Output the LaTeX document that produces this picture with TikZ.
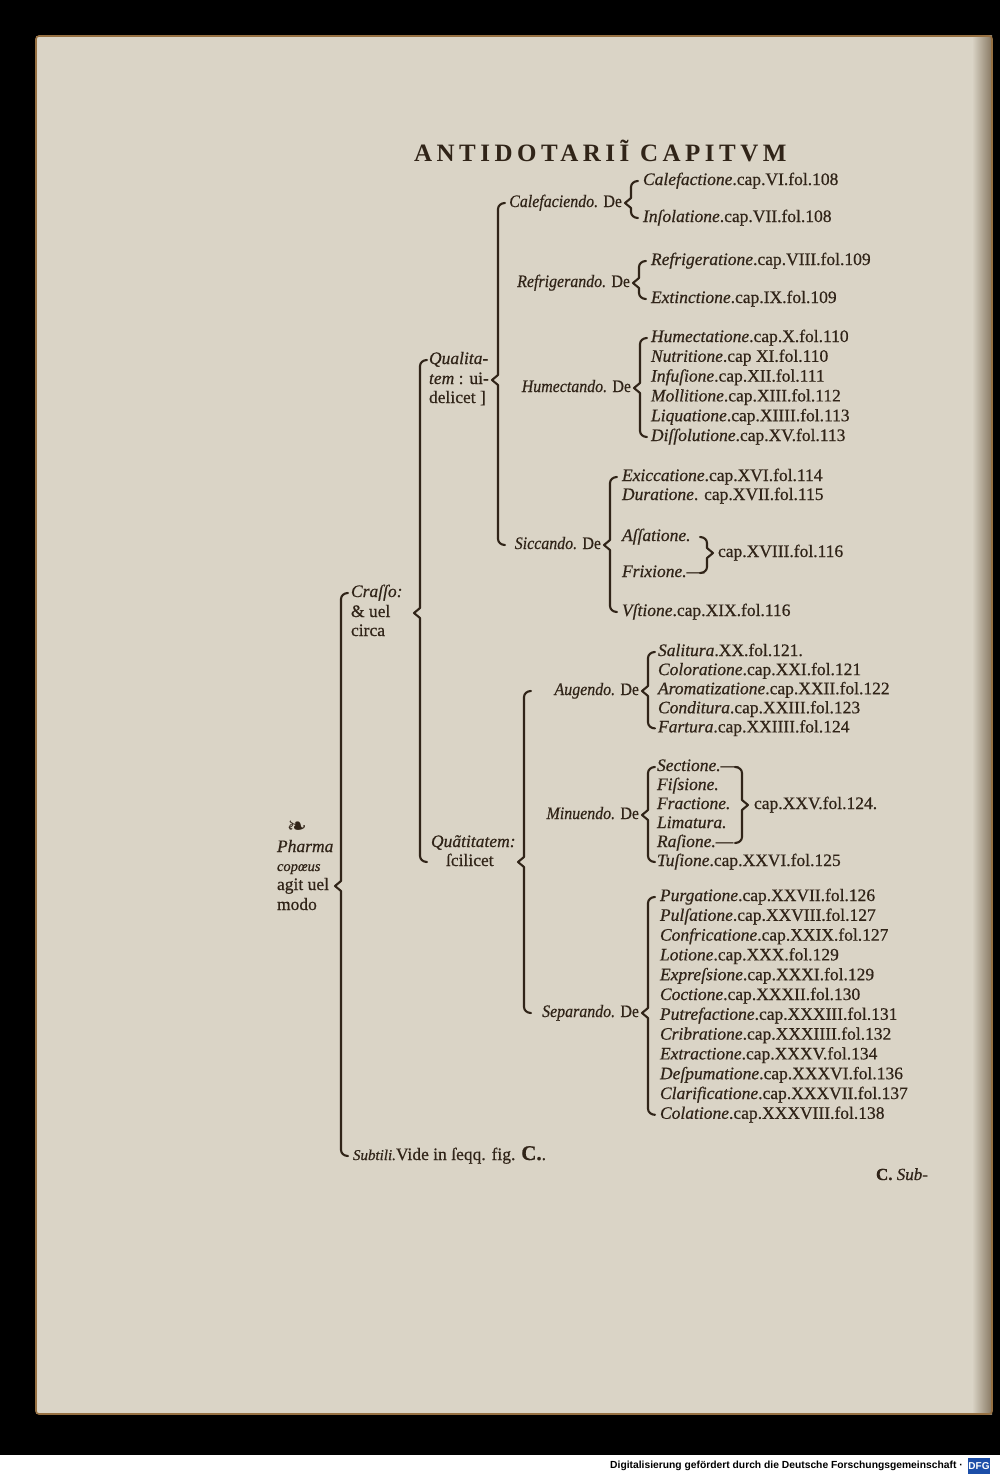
\documentclass[tikz,border=0pt]{standalone}
\usepackage{fontspec}
\usepackage{graphicx}
\setmainfont{Liberation Serif}[FakeBold=0.6]
\newfontfamily\dejavu{DejaVu Sans}
\newfontfamily\footfont{Liberation Sans}
\newfontfamily\hdfont[LetterSpace=18]{Liberation Serif}
\usetikzlibrary{calc}
\definecolor{ink}{RGB}{48,36,24}
\definecolor{paper}{RGB}{218,212,198}
\definecolor{edge}{RGB}{150,112,66}
\definecolor{dfgblue}{RGB}{28,78,168}
\newcommand\fs{\fontsize{17.5}{19}\selectfont}
\newcommand\narrow[1]{\scalebox{0.91}[1]{#1}}
\newcommand\brL[4]{% brace x, top node, bottom node, tip (parent) node
  \draw[brc] let \p1=(#2.west), \p2=(#3.west), \p3=(#4.east) in
    (#1+7,\y1) to[out=180,in=90] (#1,\y1-6) -- (#1,\y3+5) -- (#1-6,\y3)
    -- (#1,\y3-5) -- (#1,\y2+6) to[out=-90,in=180] (#1+7,\y2);}
\newcommand\brR[4]{% brace x, top node, bottom node, tip node
  \draw[brc] let \p1=(#2.east), \p2=(#3.east), \p3=(#4.west) in
    (#1-7,\y1) to[out=0,in=90] (#1,\y1-6) -- (#1,\y3+5) -- (#1+6,\y3)
    -- (#1,\y3-5) -- (#1,\y2+6) to[out=-90,in=0] (#1-7,\y2);}
\tikzset{
  txt/.style={anchor=west, inner sep=0pt, outer sep=1pt, text height=12pt,
    text depth=4pt, font=\fs, text=ink},
  brc/.style={draw=ink, line width=2.1pt, line join=round, line cap=round},
}
\begin{document}
\begin{tikzpicture}[x=1pt,y=1pt]
\useasboundingbox (0,0) rectangle (1000,-1477);
% background and page
\fill[black] (0,0) rectangle (1000,-1455);
\fill[white] (0,-1455) rectangle (1000,-1477);
\fill[paper] (36,-36) rectangle (988,-1414);
\shade[left color=paper, right color={rgb,255:red,135;green,120;blue,98}] (972,-36) rectangle (992,-1414);
\draw[edge, line width=1.6pt, rounded corners=3pt] (36,-36) rectangle (992,-1414);

% header
\node[txt, font=\hdfont\bfseries\fontsize{25}{28}\selectfont, text height=17pt, text depth=1pt] (head) at (413,-153) {ANTIDOTARIĨ CAPITVM};

% root
\node[anchor=center, inner sep=0pt, text=ink, font=\dejavu\fontsize{24}{24}\selectfont] (fleur) at (297,-828) {❧};
\node[txt] (r1) at (276,-848) {\textit{Pharma}};
\node[txt, font=\fontsize{14.5}{16}\selectfont] (r2) at (276,-867) {\textit{copœus}};
\node[txt] (r3) at (276,-886) {agit uel};
\node[txt] (r4) at (276,-906) {modo};

% Crasso / Subtili
\node[txt] (k1) at (350,-593) {\textit{Craſſo:}};
\node[txt] (k2) at (350,-613) {\& uel};
\node[txt] (k3) at (350,-632) {circa};
\node[txt] (sub) at (352,-1156) {\textit{\fontsize{15}{16}\selectfont Subtili.}Vide in ſeqq. fig. \textbf{\fontsize{21}{21}\selectfont C.}.};

% Qualitatem / Quantitatem
\node[txt] (q1) at (428,-360) {\textit{Qualita-}};
\node[txt] (q2) at (428,-380) {\textit{tem} : ui-};
\node[txt] (q3) at (428,-399) {delicet ]};
\node[txt] (n1) at (430,-843) {\textit{Quãtitatem:}};
\node[txt] (n2) at (445,-862) {ſcilicet};

% level 3 parents (right edge just before the brace tip)
\node[txt, anchor=east] (cal) at (623,-203) {\narrow{\textit{Calefaciendo.} De}};
\node[txt, anchor=east] (ref) at (631,-283) {\narrow{\textit{Refrigerando.} De}};
\node[txt, anchor=east] (hum) at (632,-388) {\narrow{\textit{Humectando.} De}};
\node[txt, anchor=east] (sic) at (602,-545) {\narrow{\textit{Siccando.} De}};
\node[txt, anchor=east] (aug) at (640,-691) {\narrow{\textit{Augendo.} De}};
\node[txt, anchor=east] (min) at (640,-815) {\narrow{\textit{Minuendo.} De}};
\node[txt, anchor=east] (sep) at (640,-1013) {\narrow{\textit{Separando.} De}};

% leaves
\node[txt] (c1) at (642,-181) {\textit{Calefactione}.cap.VI.fol.108};
\node[txt] (c2) at (642,-218) {\textit{Inſolatione}.cap.VII.fol.108};
\node[txt] (f1) at (650,-261) {\textit{Refrigeratione}.cap.VIII.fol.109};
\node[txt] (f2) at (650,-299) {\textit{Extinctione}.cap.IX.fol.109};
\foreach \t [count=\i] in {{\textit{Humectatione}.cap.X.fol.110},{\textit{Nutritione}.cap XI.fol.110},{\textit{Infuſione}.cap.XII.fol.111},{\textit{Mollitione}.cap.XIII.fol.112},{\textit{Liquatione}.cap.XIIII.fol.113},{\textit{Diſſolutione}.cap.XV.fol.113}}
  \node[txt] (h\i) at (650,{-338-19.8*(\i-1)}) {\t};
\node[txt] (s1) at (621,-477) {\textit{Exiccatione}.cap.XVI.fol.114};
\node[txt] (s2) at (621,-496) {\textit{Duratione}. cap.XVII.fol.115};
\node[txt] (s3) at (621,-537) {\textit{Aſſatione.}};
\node[txt] (s4) at (621,-573) {\textit{Frixione.}—};
\node[txt] (s5) at (621,-612) {\textit{Vſtione}.cap.XIX.fol.116};
\node[txt] (sx) at (717,-553) {cap.XVIII.fol.116};
\foreach \t [count=\i] in {{\textit{Salitura}.XX.fol.121.},{\textit{Coloratione}.cap.XXI.fol.121},{\textit{Aromatizatione}.cap.XXII.fol.122},{\textit{Conditura}.cap.XXIII.fol.123},{\textit{Fartura}.cap.XXIIII.fol.124}}
  \node[txt] (a\i) at (657,{-652-19.1*(\i-1)}) {\t};
\foreach \t [count=\i] in {{\textit{Sectione.}—},{\textit{Fiſsione.}},{\textit{Fractione.}},{\textit{Limatura.}},{\textit{Raſione.}—},{\textit{Tuſione}.cap.XXVI.fol.125}}
  \node[txt] (m\i) at (656,{-767-19*(\i-1)}) {\t};
\node[txt] (mx) at (753,-805) {cap.XXV.fol.124.};
\foreach \t [count=\i] in {{\textit{Purgatione}.cap.XXVII.fol.126},{\textit{Pulſatione}.cap.XXVIII.fol.127},{\textit{Confricatione}.cap.XXIX.fol.127},{\textit{Lotione}.cap.XXX.fol.129},{\textit{Expreſsione}.cap.XXXI.fol.129},{\textit{Coctione}.cap.XXXII.fol.130},{\textit{Putrefactione}.cap.XXXIII.fol.131},{\textit{Cribratione}.cap.XXXIIII.fol.132},{\textit{Extractione}.cap.XXXV.fol.134},{\textit{Deſpumatione}.cap.XXXVI.fol.136},{\textit{Clarificatione}.cap.XXXVII.fol.137},{\textit{Colatione}.cap.XXXVIII.fol.138}}
  \node[txt] (p\i) at (659,{-897-19.8*(\i-1)}) {\t};

% catchword
\node[txt, font=\fontsize{17}{18}\selectfont] (catch) at (875,-1176) {\textbf{C.} \textit{Sub-}};

% braces
\brL{341}{k1}{sub}{r3}
\brL{420}{q1}{n2}{k2}
\brL{498}{cal}{sic}{q2}
\brL{524}{aug}{sep}{n2}
\brL{631}{c1}{c2}{cal}
\brL{639}{f1}{f2}{ref}
\brL{640}{h1}{h6}{hum}
\brL{610}{s1}{s5}{sic}
\brL{648}{a1}{a5}{aug}
\brL{648}{m1}{m6}{min}
\brL{648}{p1}{p12}{sep}
\brR{707}{s3}{s4}{sx}
\brR{742}{m1}{m5}{mx}

% footer
\node[anchor=west, inner sep=0pt, text=black, font=\footfont\bfseries\fontsize{10.3}{12}\selectfont] (foot) at (610,-1466) {Digitalisierung gefördert durch die Deutsche Forschungsgemeinschaft ·};
\node[fill=dfgblue, text=white, inner sep=0pt, minimum width=22pt, minimum height=16pt, font=\footfont\bfseries\fontsize{10}{10}\selectfont] (dfg) at (979,-1466) {DFG};
\end{tikzpicture}
\end{document}
